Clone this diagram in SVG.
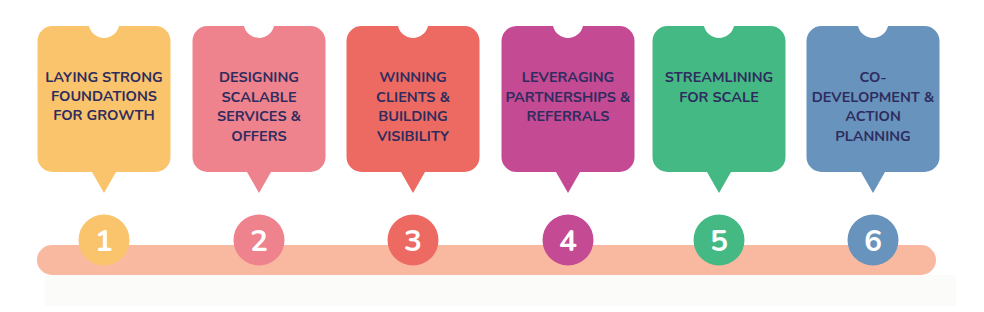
<svg xmlns="http://www.w3.org/2000/svg" xmlns:xlink="http://www.w3.org/1999/xlink" width="984" height="312" viewBox="0 0 984 312">
<style>
.lbl{font-family:"Nunito","Noto Sans","Liberation Sans",sans-serif;font-weight:700;font-size:14.5px;fill:#2E2C5E;text-anchor:middle}
.num{font-family:"Nunito","Noto Sans","Liberation Sans",sans-serif;font-weight:700;font-size:30px;fill:#FFFFFF;text-anchor:middle}
</style>
<defs>
<path id="bubble" d="M -51.5 26 H -15 A 15.4 15.4 0 0 0 15 26 H 51.5 A 15 15 0 0 1 66.5 41 V 157 A 15 15 0 0 1 51.5 172 H 12 L 0 193 L -12 172 H -51.5 A 15 15 0 0 1 -66.5 157 V 41 A 15 15 0 0 1 -51.5 26 Z"/>
</defs>
<rect x="0" y="0" width="984" height="312" fill="#FFFFFF"/>
<rect x="45" y="275" width="911" height="31" fill="#FBFBF9"/>
<g id="connectors">
<rect x="37" y="245" width="899" height="30" rx="15" ry="15" fill="#F9B9A0"/>
</g>
<g id="node1" transform="translate(104,0)">
<use xlink:href="#bubble" fill="#F9C46B"/>
<text class="lbl"><tspan x="0" y="82">LAYING STRONG</tspan><tspan x="0" y="101">FOUNDATIONS</tspan><tspan x="0" y="120">FOR GROWTH</tspan></text>
<circle cx="0" cy="240" r="25.5" fill="#F9C46B"/>
<text class="num" x="0" y="251">1</text>
</g>
<g id="node2" transform="translate(259,0)">
<use xlink:href="#bubble" fill="#EE828D"/>
<text class="lbl"><tspan x="0" y="82">DESIGNING</tspan><tspan x="0" y="101.5">SCALABLE</tspan><tspan x="0" y="121">SERVICES &amp;</tspan><tspan x="0" y="140.5">OFFERS</tspan></text>
<circle cx="0" cy="240" r="25.5" fill="#EE828D"/>
<text class="num" x="0" y="251">2</text>
</g>
<g id="node3" transform="translate(413,0)">
<use xlink:href="#bubble" fill="#ED6A62"/>
<text class="lbl"><tspan x="0" y="82">WINNING</tspan><tspan x="0" y="101.5">CLIENTS &amp;</tspan><tspan x="0" y="121">BUILDING</tspan><tspan x="0" y="140.5">VISIBILITY</tspan></text>
<circle cx="0" cy="240" r="25.5" fill="#ED6A62"/>
<text class="num" x="0" y="251">3</text>
</g>
<g id="node4" transform="translate(568,0)">
<use xlink:href="#bubble" fill="#C34A93"/>
<text class="lbl"><tspan x="0" y="82">LEVERAGING</tspan><tspan x="0" y="101.5">PARTNERSHIPS &amp;</tspan><tspan x="0" y="121">REFERRALS</tspan></text>
<circle cx="0" cy="240" r="25.5" fill="#C34A93"/>
<text class="num" x="0" y="251">4</text>
</g>
<g id="node5" transform="translate(719,0)">
<use xlink:href="#bubble" fill="#45B984"/>
<text class="lbl"><tspan x="0" y="82">STREAMLINING</tspan><tspan x="0" y="101.5">FOR SCALE</tspan></text>
<circle cx="0" cy="240" r="25.5" fill="#45B984"/>
<text class="num" x="0" y="251">5</text>
</g>
<g id="node6" transform="translate(873,0)">
<use xlink:href="#bubble" fill="#6893BC"/>
<text class="lbl"><tspan x="0" y="82">CO-</tspan><tspan x="0" y="101.5">DEVELOPMENT &amp;</tspan><tspan x="0" y="121">ACTION</tspan><tspan x="0" y="140.5">PLANNING</tspan></text>
<circle cx="0" cy="240" r="25.5" fill="#6893BC"/>
<text class="num" x="0" y="251">6</text>
</g>
</svg>
